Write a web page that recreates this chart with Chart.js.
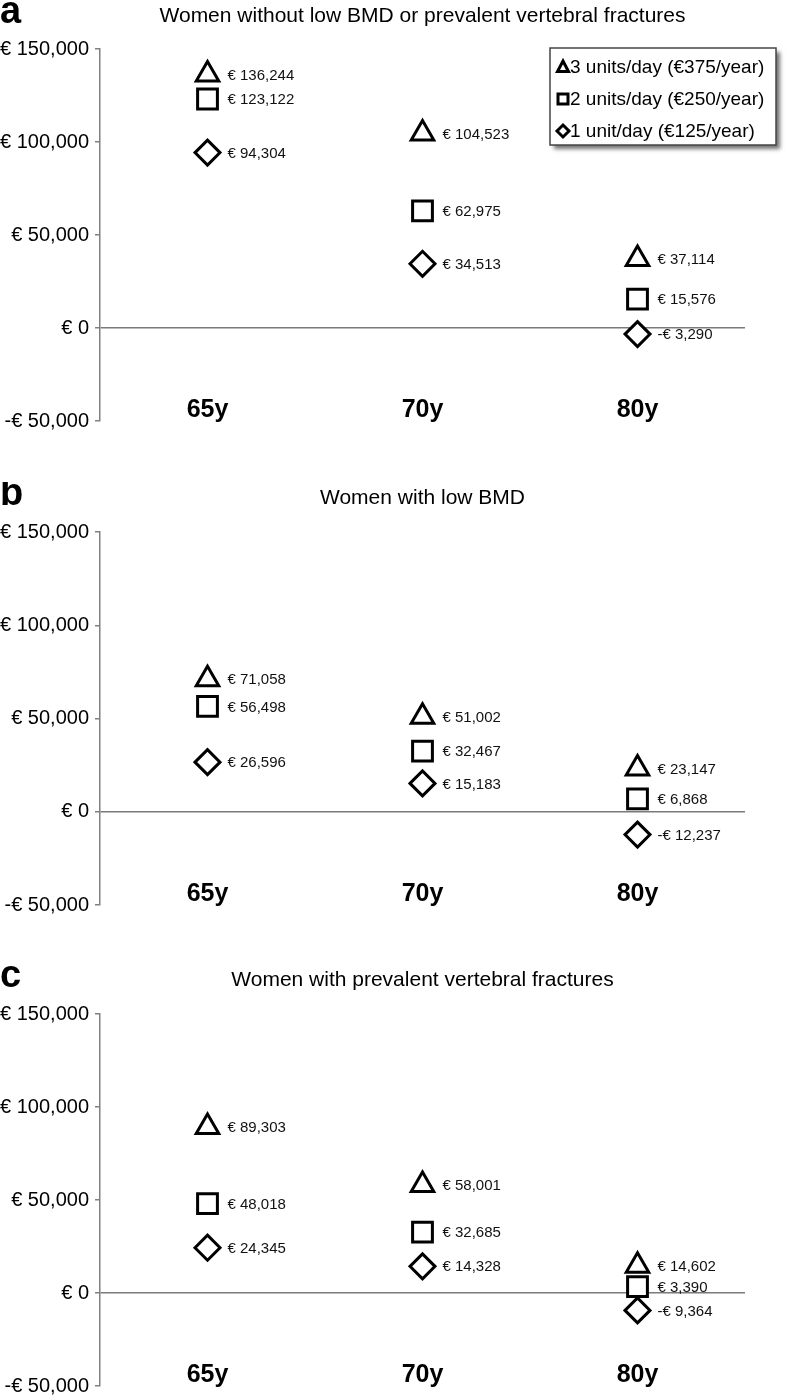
<!DOCTYPE html>
<html>
<head>
<meta charset="utf-8">
<script src="https://cdn.jsdelivr.net/npm/chart.js@4"></script>
<style>
  body { margin: 0; background: #fff; overflow: hidden; }
  canvas { display: block; }
</style>
</head>
<body>
<canvas id="chartA" width="788" height="482"></canvas>
<canvas id="chartB" width="788" height="482"></canvas>
<canvas id="chartC" width="788" height="439"></canvas>
<script>
// ages and series (net savings in euro)
const ages = ['65y', '70y', '80y']
const seriesNames = ['3 units/day (€375/year)', '2 units/day (€250/year)', '1 unit/day (€125/year)']
const yTicks = [-50000, 0, 50000, 100000, 150000]

const panelLetters = ['a', 'b', 'c']
const panelTitles = [
    'Women without low BMD or prevalent vertebral fractures',
    'Women with low BMD',
    'Women with prevalent vertebral fractures'
]

const aThree = [136244, 104523, 37114]
const aTwo = [123122, 62975, 15576]
const aOne = [94304, 34513, -3290]

const bThree = [71058, 51002, 23147]
const bTwo = [56498, 32467, 6868]
const bOne = [26596, 15183, -12237]

const cThree = [89303, 58001, 14602]
const cTwo = [48018, 32685, 3390]
const cOne = [24345, 14328, -9364]

Chart.defaults.font.family = '"Liberation Sans", Arial, sans-serif'
Chart.defaults.color = '#111'

const euro = (v) => {
    const s = '€ ' + Math.abs(v).toLocaleString('en-US')
    return v < 0 ? '-' + s : s
}

const styles = ['triangle', 'rect', 'rectRot']
const radii = [13, 14, 12.5]

// value labels right of each marker
const pointLabels = {
    id: 'pointLabels',
    afterDatasetsDraw(chart) {
        const ctx = chart.ctx
        ctx.save()
        ctx.font = '15px "Liberation Sans", Arial, sans-serif'
        ctx.fillStyle = '#111'
        ctx.textBaseline = 'middle'
        chart.data.datasets.forEach((ds, i) => {
            chart.getDatasetMeta(i).data.forEach((pt, j) => {
                ctx.fillText(euro(ds.data[j]), pt.x + 20, pt.y + 1)
            })
        })
        ctx.restore()
    }
}

// panel letter + title centred on the plot area
const panelHead = {
    id: 'panelHead',
    afterDraw(chart, args, opts) {
        const ctx = chart.ctx
        const area = chart.chartArea
        ctx.save()
        ctx.fillStyle = '#000'
        ctx.textBaseline = 'alphabetic'
        ctx.textAlign = 'left'
        ctx.font = 'bold 38px "Liberation Sans", Arial, sans-serif'
        ctx.fillText(opts.letter, 0, 23)
        ctx.textAlign = 'center'
        ctx.font = '21px "Liberation Sans", Arial, sans-serif'
        ctx.fillText(opts.title, (area.left + area.right) / 2, 22)
        ctx.restore()
    }
}

// boxed legend with shadow, top right of panel a
const boxLegend = {
    id: 'boxLegend',
    afterDraw(chart, args, opts) {
        if (!opts.show) return
        const ctx = chart.ctx
        const x = 550, y = 48, w = 226, h = 97
        ctx.save()
        ctx.shadowColor = 'rgba(0,0,0,0.55)'
        ctx.shadowBlur = 4
        ctx.shadowOffsetX = 4
        ctx.shadowOffsetY = 4
        ctx.fillStyle = '#fff'
        ctx.fillRect(x, y, w, h)
        ctx.restore()
        ctx.save()
        ctx.strokeStyle = '#444'
        ctx.lineWidth = 1.5
        ctx.strokeRect(x, y, w, h)
        ctx.font = '19px "Liberation Sans", Arial, sans-serif'
        ctx.fillStyle = '#000'
        ctx.textBaseline = 'middle'
        ctx.lineWidth = 3
        ctx.strokeStyle = '#000'
        chart.data.datasets.forEach((ds, i) => {
            const cy = y + 19 + i * 32
            const mx = 563
            ctx.beginPath()
            if (i === 0) {
                ctx.moveTo(mx, cy - 6)
                ctx.lineTo(mx + 5.5, cy + 4.5)
                ctx.lineTo(mx - 5.5, cy + 4.5)
                ctx.closePath()
            } else if (i === 1) {
                ctx.rect(mx - 5, cy - 5, 10, 10)
            } else {
                ctx.moveTo(mx, cy - 6)
                ctx.lineTo(mx + 6, cy)
                ctx.lineTo(mx, cy + 6)
                ctx.lineTo(mx - 6, cy)
                ctx.closePath()
            }
            ctx.stroke()
            ctx.fillText(ds.label, 570, cy + 1)
        })
        ctx.restore()
    }
}

const makePanel = (id, idx, three, two, one, padTop, padBottom, showLegend) => {
    const values = [three, two, one]
    const datasets = values.map((vals, i) => ({
        label: seriesNames[i],
        data: vals,
        showLine: false,
        pointStyle: styles[i],
        pointRadius: radii[i],
        pointHoverRadius: radii[i],
        pointBorderWidth: 3,
        pointBorderColor: '#000',
        pointBackgroundColor: '#fff',
        borderColor: '#000',
        backgroundColor: '#fff',
    }))
    return new Chart(document.getElementById(id), {
        type: 'line',
        data: { labels: ages, datasets },
        options: {
            responsive: false,
            animation: false,
            layout: { padding: { top: padTop, bottom: padBottom, left: 0, right: 43 } },
            plugins: {
                legend: { display: false },
                tooltip: { enabled: false },
                panelHead: { letter: panelLetters[idx], title: panelTitles[idx] },
                boxLegend: { show: showLegend },
            },
            scales: {
                x: {
                    type: 'category',
                    offset: true,
                    afterFit: (scale) => {
                        scale.height = 0
                        scale.paddingLeft = 0
                        scale.paddingRight = 0
                    },
                    grid: { display: false },
                    border: { display: false },
                    ticks: {
                        mirror: true,
                        padding: -4,
                        color: '#000',
                        font: { size: 25, weight: 'bold' },
                    },
                },
                y: {
                    min: -50000,
                    max: 150000,
                    afterFit: (scale) => {
                        scale.width = 100
                        scale.paddingTop = 0
                        scale.paddingBottom = 0
                    },
                    afterBuildTicks: (scale) => { scale.ticks = yTicks.map((v) => ({ value: v })) },
                    border: { display: true, color: '#808080', width: 1.5 },
                    grid: {
                        color: (c) => (c.tick && c.tick.value === 0 ? '#7a7a7a' : 'rgba(0,0,0,0)'),
                        lineWidth: 1.5,
                        tickColor: '#808080',
                        tickLength: 5,
                    },
                    ticks: {
                        padding: 6,
                        color: '#000',
                        font: { size: 20 },
                        callback: (v) => euro(v),
                    },
                },
            },
        },
        plugins: [pointLabels, panelHead, boxLegend],
    })
}

makePanel('chartA', 0, aThree, aTwo, aOne, 49, 61, true)
makePanel('chartB', 1, bThree, bTwo, bOne, 50, 59, false)
makePanel('chartC', 2, cThree, cTwo, cOne, 50, 11, false)
</script>
</body>
</html>
